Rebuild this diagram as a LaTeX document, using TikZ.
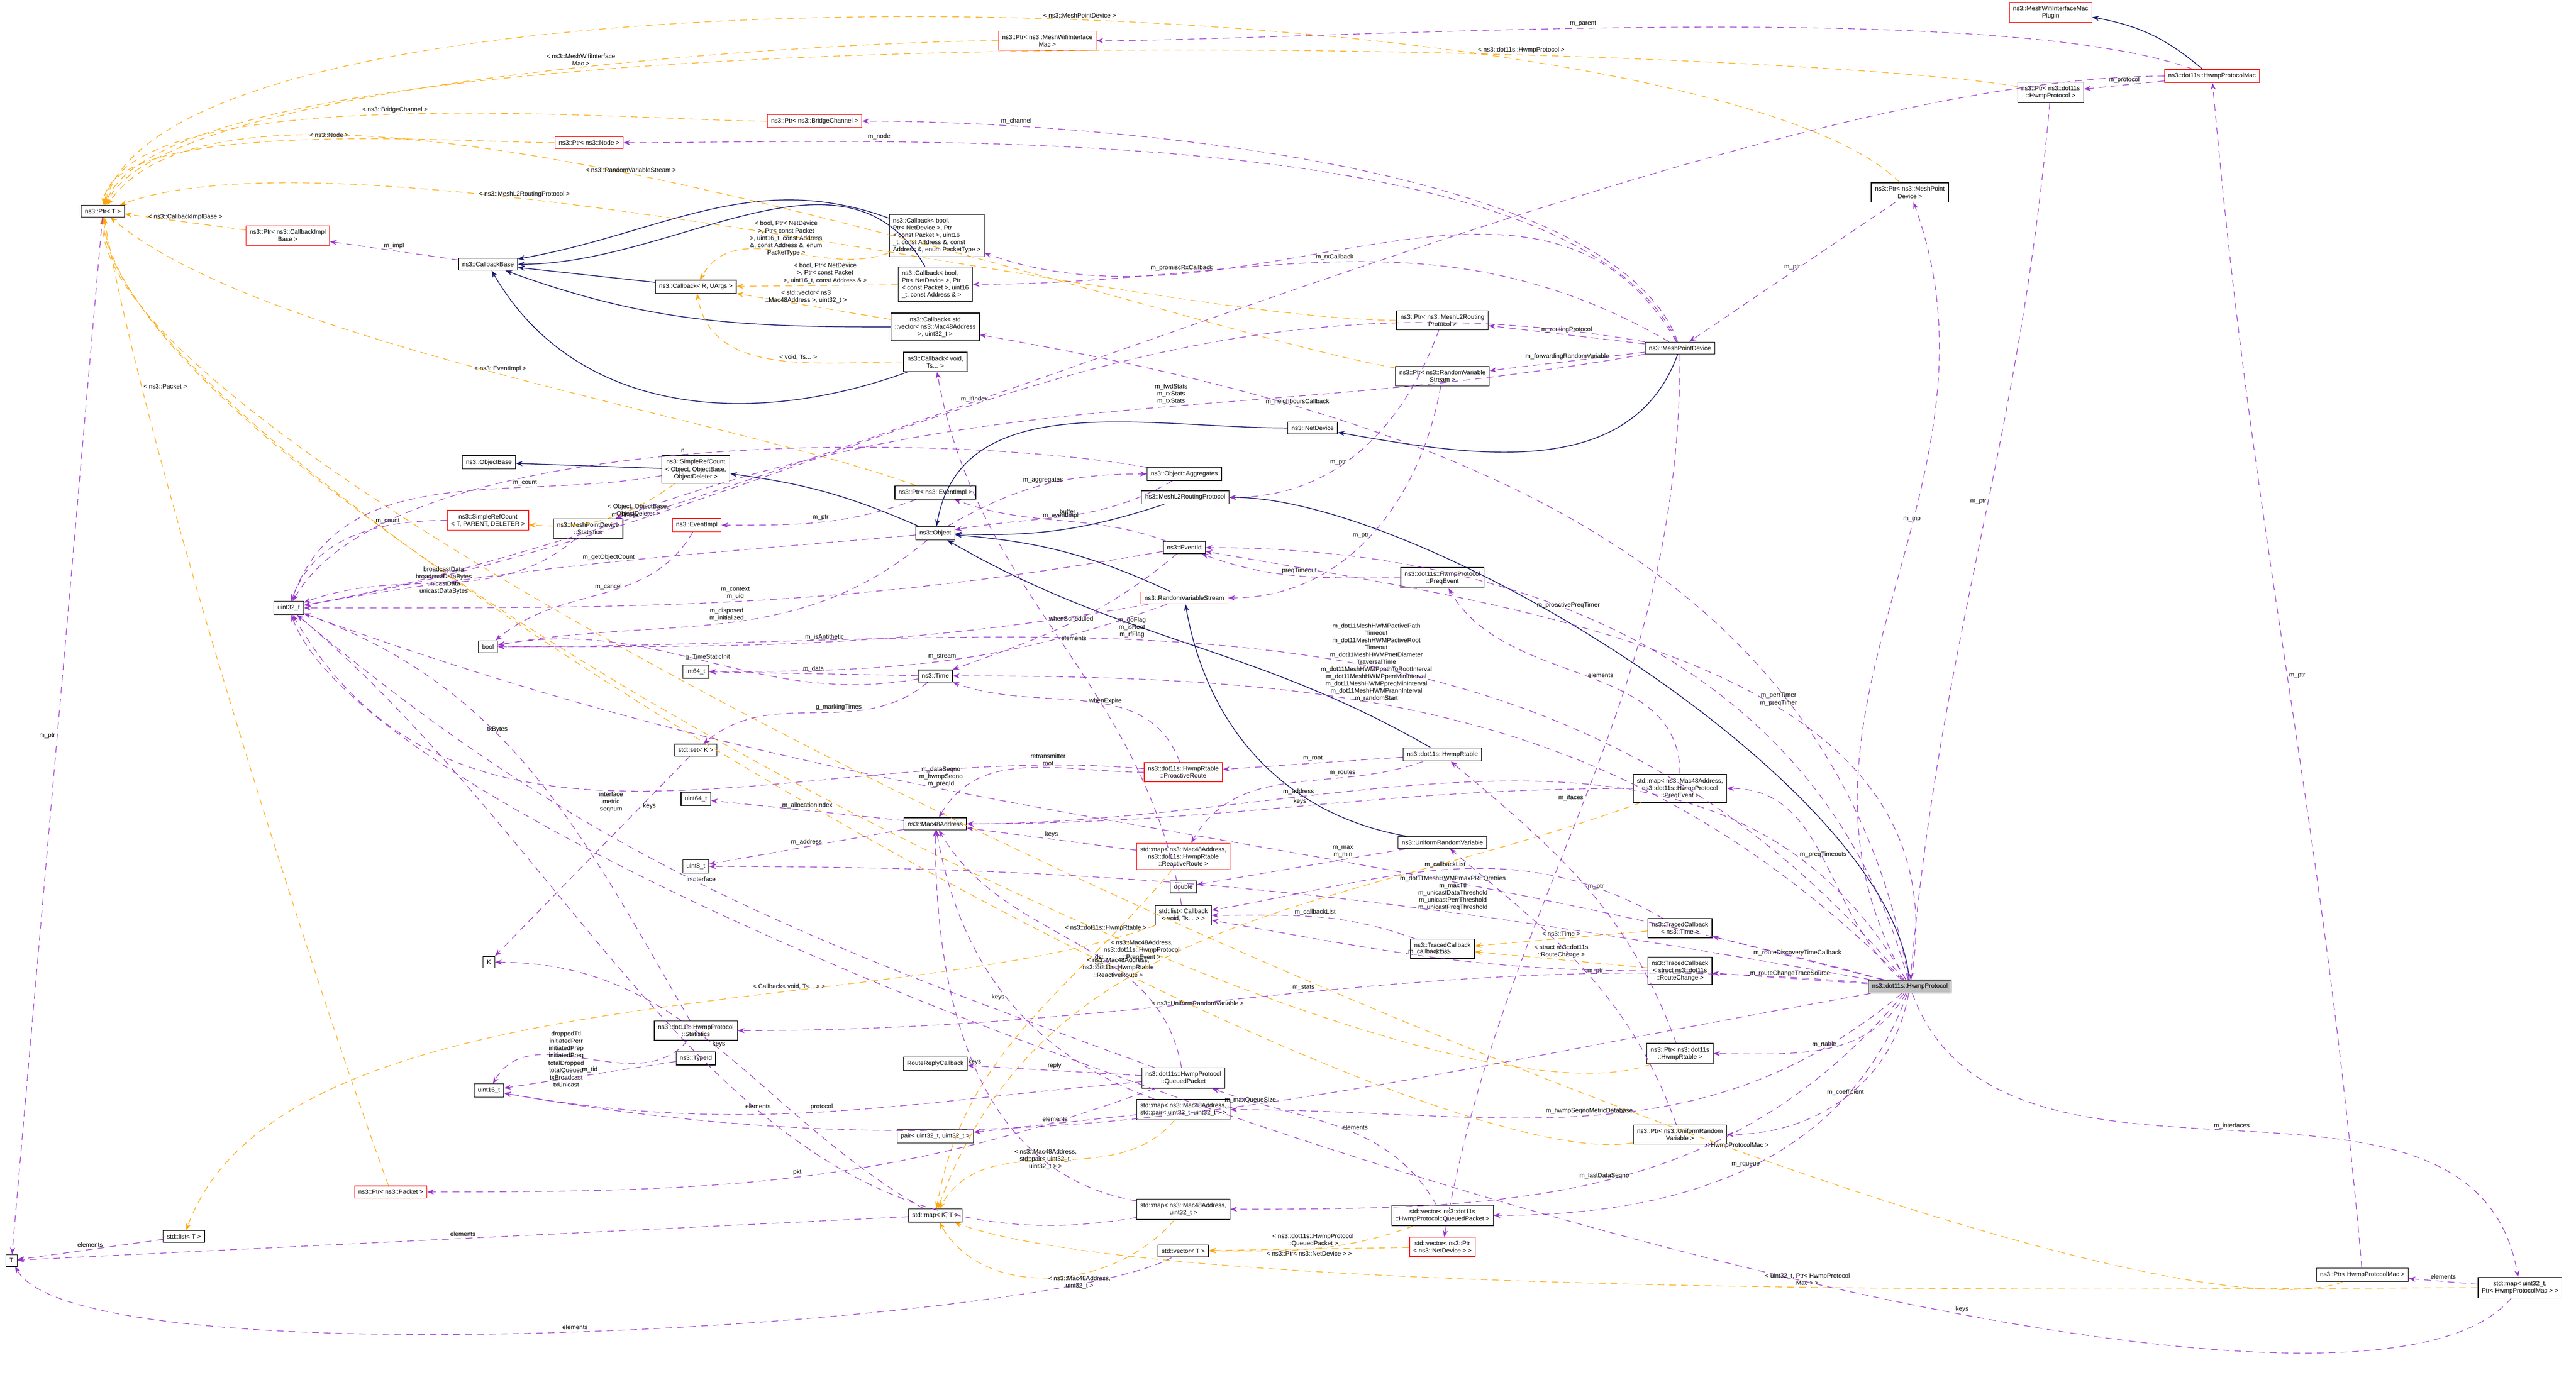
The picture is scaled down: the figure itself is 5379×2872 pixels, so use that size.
\documentclass[tikz,border=0pt]{standalone}
\usepackage{fontspec}
\setmainfont{Liberation Sans}
\usetikzlibrary{arrows.meta}
\definecolor{mem}{HTML}{9A32CD}
\definecolor{tpl}{HTML}{FFA500}
\definecolor{inh}{HTML}{191970}
\begin{document}
\begin{tikzpicture}[x=0.002cm,y=-0.002cm,
  every node/.style={font=\fontsize{0.74}{0.86}\selectfont},
  box/.style={draw=black,fill=white,align=center,inner sep=0.44pt,line width=0.08pt},
  rbox/.style={box,draw=red},
  gbox/.style={box,fill=black!25},
  lbl/.style={align=center,inner sep=0.2pt},
  mm/.style={draw=mem,dashed,dash pattern=on 0.8pt off 0.6pt,line width=0.07pt,-{Stealth[length=0.8pt,width=0.6pt]}},
  tp/.style={draw=tpl,dashed,dash pattern=on 0.8pt off 0.6pt,line width=0.07pt,-{Stealth[length=0.8pt,width=0.6pt]}},
  ih/.style={draw=inh,line width=0.09pt,-{Stealth[length=0.8pt,width=0.6pt]}}]
\useasboundingbox (0,0) rectangle (5379,2872);
% nodes
\node[box] (PtrT) at (215,441) {ns3::Ptr< T >};
\node[rbox] (PtrMWIM) at (2187,85) {ns3::Ptr< ns3::MeshWifiInterface\\Mac >};
\node[rbox] (PtrBC) at (1701,253) {ns3::Ptr< ns3::BridgeChannel >};
\node[rbox] (PtrNode) at (1230,298) {ns3::Ptr< ns3::Node >};
\node[rbox] (PtrCIB) at (601,492) {ns3::Ptr< ns3::CallbackImpl\\Base >};
\node[box] (CBase) at (1019,552) {ns3::CallbackBase};
\node[box] (CbRU) at (1453,599) {ns3::Callback< R, UArgs >};
\node[box,align=left] (Cb1) at (1956,492) {ns3::Callback< bool,\\ Ptr< NetDevice >, Ptr\\< const Packet >, uint16\\\_t, const Address \&, const\\ Address \&, enum PacketType >};
\node[box,align=left] (Cb2) at (1953,594) {ns3::Callback< bool,\\ Ptr< NetDevice >, Ptr\\< const Packet >, uint16\\\_t, const Address \& >};
\node[box] (Cb3) at (1953,683) {ns3::Callback< std\\::vector< ns3::Mac48Address\\ >, uint32\_t >};
\node[box] (Cb4) at (1953,756) {ns3::Callback< void,\\ Ts... >};
\node[box] (ObjBase) at (1021,966) {ns3::ObjectBase};
\node[box] (SRCO) at (1453,981) {ns3::SimpleRefCount\\< Object, ObjectBase,\\ ObjectDeleter >};
\node[rbox] (SRCT) at (1019,1087) {ns3::SimpleRefCount\\< T, PARENT, DELETER >};
\node[box] (MPDStats) at (1228,1104) {ns3::MeshPointDevice\\::Statistics};
\node[rbox] (EvImpl) at (1455,1097) {ns3::EventImpl};
\node[box] (PtrEI) at (1953,1029) {ns3::Ptr< ns3::EventImpl >};
\node[box] (Obj) at (1953,1114) {ns3::Object};
\node[box] (ObjAgg) at (2473,990) {ns3::Object::Aggregates};
\node[box] (ML2) at (2475,1039) {ns3::MeshL2RoutingProtocol};
\node[box] (EvId) at (2473,1144) {ns3::EventId};
\node[rbox] (RVS) at (2473,1249) {ns3::RandomVariableStream};
\node[box] (u32) at (603,1270) {uint32\_t};
\node[box] (bool) at (1019,1351) {bool};
\node[box] (i64) at (1453,1403) {int64\_t};
\node[box] (Time) at (1953,1412) {ns3::Time};
\node[box] (NetDev) at (2741,894) {ns3::NetDevice};
\node[rbox] (Plugin) at (4282,26) {ns3::MeshWifiInterfaceMac\\Plugin};
\node[rbox] (HPMac) at (4619,159) {ns3::dot11s::HwmpProtocolMac};
\node[box] (PtrHP) at (4282,193) {ns3::Ptr< ns3::dot11s\\::HwmpProtocol >};
\node[box] (PtrMPD) at (3988,402) {ns3::Ptr< ns3::MeshPoint\\Device >};
\node[box] (PtrML2) at (3012,669) {ns3::Ptr< ns3::MeshL2Routing\\Protocol >};
\node[box] (MPD) at (3508,727) {ns3::MeshPointDevice};
\node[box] (PtrRVS) at (3012,786) {ns3::Ptr< ns3::RandomVariable\\Stream >};
\node[box] (Preq) at (3012,1207) {ns3::dot11s::HwmpProtocol\\::PreqEvent};
\node[box] (SetK) at (1453,1567) {std::set< K >};
\node[box] (u64) at (1453,1669) {uint64\_t};
\node[rbox] (Proact) at (2471,1613) {ns3::dot11s::HwmpRtable\\::ProactiveRoute};
\node[box] (Mac) at (1953,1721) {ns3::Mac48Address};
\node[box] (u8) at (1453,1810) {uint8\_t};
\node[rbox] (MapRR) at (2471,1789) {std::map< ns3::Mac48Address,\\ ns3::dot11s::HwmpRtable\\::ReactiveRoute >};
\node[box] (dbl) at (2471,1853) {double};
\node[box] (ListCb) at (2471,1912) {std::list< Callback\\< void, Ts... > >};
\node[box] (K) at (1021,2010) {K};
\node[box] (HStats) at (1453,2153) {ns3::dot11s::HwmpProtocol\\::Statistics};
\node[box] (TypeId) at (1453,2211) {ns3::TypeId};
\node[box] (RRC) at (1953,2222) {RouteReplyCallback};
\node[box] (QP) at (2471,2252) {ns3::dot11s::HwmpProtocol\\::QueuedPacket};
\node[box] (u16) at (1021,2278) {uint16\_t};
\node[box] (MapPair) at (2471,2318) {std::map< ns3::Mac48Address,\\ std::pair< uint32\_t, uint32\_t > >};
\node[box] (Pair) at (1953,2374) {pair< uint32\_t, uint32\_t >};
\node[rbox] (PtrPkt) at (816,2490) {ns3::Ptr< ns3::Packet >};
\node[box] (MapKT) at (1953,2539) {std::map< K, T >};
\node[box] (MapU32) at (2471,2526) {std::map< ns3::Mac48Address,\\ uint32\_t >};
\node[box] (ListT) at (384,2583) {std::list< T >};
\node[box] (T) at (24,2633) {T};
\node[box] (VecT) at (2471,2613) {std::vector< T >};
\node[box] (Rtable) at (3012,1576) {ns3::dot11s::HwmpRtable};
\node[box] (MapPreq) at (3508,1647) {std::map< ns3::Mac48Address,\\ ns3::dot11s::HwmpProtocol\\::PreqEvent >};
\node[box] (URV) at (3012,1760) {ns3::UniformRandomVariable};
\node[box] (TCTime) at (3508,1939) {ns3::TracedCallback\\< ns3::Time >};
\node[box] (TCTs) at (3012,1982) {ns3::TracedCallback\\< Ts >};
\node[box] (TCRC) at (3508,2028) {ns3::TracedCallback\\< struct ns3::dot11s\\::RouteChange >};
\node[gbox] (HP) at (3988,2061) {ns3::dot11s::HwmpProtocol};
\node[box] (PtrRt) at (3508,2201) {ns3::Ptr< ns3::dot11s\\::HwmpRtable >};
\node[box] (PtrURV) at (3508,2370) {ns3::Ptr< ns3::UniformRandom\\Variable >};
\node[box] (VecQP) at (3012,2539) {std::vector< ns3::dot11s\\::HwmpProtocol::QueuedPacket >};
\node[rbox] (VecND) at (3012,2605) {std::vector< ns3::Ptr\\< ns3::NetDevice > >};
\node[box] (PtrHPMac) at (4933,2663) {ns3::Ptr< HwmpProtocolMac >};
\node[box] (MapIf) at (5262,2690) {std::map< uint32\_t,\\ Ptr< HwmpProtocolMac > >};

% inheritance
\draw[ih] (HPMac) to[bend right=15] (Plugin);
\draw[ih] (MPD) to[out=-110,in=-10] (NetDev);
\draw[ih] (NetDev) to[out=180,in=80] (Obj);
\draw[ih] (HP) to[out=95,in=0,looseness=0.6] (ML2);
\draw[ih] (ML2) to[bend left=10] (Obj);
\draw[ih] (RVS) to[bend right=10] (Obj);
\draw[ih] (URV) to[out=170,in=-80] (RVS);
\draw[ih] (Rtable) to[out=150,in=-30] (Obj);
\draw[ih] (Obj) to[bend right=8] (SRCO);
\draw[ih] (SRCO) to (ObjBase);
\draw[ih] (CbRU) to (CBase);
\draw[ih] (Cb1) to[out=160,in=10] (CBase);
\draw[ih] (Cb2) to[out=120,in=0] (CBase);
\draw[ih] (Cb3) to[out=180,in=-20] (CBase);
\draw[ih] (Cb4) to[out=200,in=-60] (CBase);

% template instantiations
\draw[tp] (PtrMWIM) to[out=180,in=65,looseness=0.4] node[lbl,pos=0.45,above]{< ns3::MeshWifiInterface\\Mac >} (PtrT);
\draw[tp] (PtrHP) to[out=170,in=70,looseness=0.3] node[lbl,pos=0.3,above]{< ns3::dot11s::HwmpProtocol >} (PtrT);
\draw[tp] (PtrMPD) to[out=135,in=75,looseness=0.4] node[lbl,pos=0.45,above]{< ns3::MeshPointDevice >} (PtrT);
\draw[tp] (PtrBC) to[out=180,in=80,looseness=0.5] node[lbl,pos=0.5,above]{< ns3::BridgeChannel >} (PtrT);
\draw[tp] (PtrNode) to[out=180,in=85,looseness=0.5] node[lbl,pos=0.45,above]{< ns3::Node >} (PtrT);
\draw[tp] (PtrRVS) to[out=170,in=55,looseness=0.5] node[lbl,pos=0.55,above]{< ns3::RandomVariableStream >} (PtrT);
\draw[tp] (PtrML2) to[out=180,in=20,looseness=0.5] node[lbl,pos=0.65,above]{< ns3::MeshL2RoutingProtocol >} (PtrT);
\draw[tp] (PtrCIB) to node[lbl,pos=0.5,above]{< ns3::CallbackImplBase >} (PtrT);
\draw[tp] (PtrEI) to[out=160,in=-40,looseness=0.6] node[lbl,pos=0.5,above]{< ns3::EventImpl >} (PtrT);
\draw[tp] (PtrPkt) to[out=110,in=-80,looseness=0.6] node[lbl,pos=0.8,right]{< ns3::Packet >} (PtrT);
\draw[tp] (PtrRt) to[out=200,in=-85,looseness=0.4] node[lbl,pos=0.35,above]{< ns3::dot11s::HwmpRtable >} (PtrT);
\draw[tp] (PtrURV) to[out=190,in=-88,looseness=0.35] node[lbl,pos=0.3,above]{< ns3::UniformRandomVariable >} (PtrT);
\draw[tp] (PtrHPMac) to[out=200,in=-92,looseness=0.3] node[lbl,pos=0.3,above]{< HwmpProtocolMac >} (PtrT);
\draw[tp] (SRCO) to[bend left=20] node[lbl,pos=0.5,above right]{< Object, ObjectBase,\\ ObjectDeleter >} (SRCT);
\draw[tp] (Cb1) to[out=200,in=60] node[lbl,pos=0.3,above left]{< bool, Ptr< NetDevice\\ >, Ptr< const Packet\\ >, uint16\_t, const Address\\ \&, const Address \&, enum\\ PacketType >} (CbRU);
\draw[tp] (Cb2) to node[lbl,pos=0.45,above]{< bool, Ptr< NetDevice\\ >, Ptr< const Packet\\ >, uint16\_t, const Address \& >} (CbRU);
\draw[tp] (Cb3) to node[lbl,pos=0.55,above]{< std::vector< ns3\\::Mac48Address >, uint32\_t >} (CbRU);
\draw[tp] (Cb4) to[out=180,in=-80] node[lbl,pos=0.4,above]{< void, Ts... >} (CbRU);
\draw[tp] (MapRR) to[out=230,in=80] node[lbl,pos=0.3,right]{< ns3::Mac48Address,\\ ns3::dot11s::HwmpRtable\\::ReactiveRoute >} (MapKT);
\draw[tp] (MapPreq) to[out=200,in=70] node[lbl,pos=0.55,left]{< ns3::Mac48Address,\\ ns3::dot11s::HwmpProtocol\\::PreqEvent >} (MapKT);
\draw[tp] (MapPair) to[out=230,in=60] node[lbl,pos=0.4,left]{< ns3::Mac48Address,\\ std::pair< uint32\_t,\\ uint32\_t > >} (MapKT);
\draw[tp] (MapU32) to[out=230,in=-60] node[lbl,pos=0.4,below]{< ns3::Mac48Address,\\ uint32\_t >} (MapKT);
\draw[tp] (MapIf) to[out=180,in=-20,looseness=0.4] node[lbl,pos=0.45,above]{< uint32\_t, Ptr< HwmpProtocol\\ Mac > >} (MapKT);
\draw[tp] (ListCb) to[out=200,in=70,looseness=0.7] node[lbl,pos=0.35,above]{< Callback< void, Ts... > >} (ListT);
\draw[tp] (VecQP) to[out=200,in=0] node[lbl,pos=0.5,above]{< ns3::dot11s::HwmpProtocol\\::QueuedPacket >} (VecT);
\draw[tp] (VecND) to node[lbl,pos=0.5,below]{< ns3::Ptr< ns3::NetDevice > >} (VecT);
\draw[tp] (TCTime) to node[lbl,pos=0.5,above]{< ns3::Time >} (TCTs);
\draw[tp] (TCRC) to node[lbl,pos=0.5,above]{< struct ns3::dot11s\\::RouteChange >} (TCTs);

% members
\draw[mm] (HPMac) to[out=160,in=0,looseness=0.5] node[lbl,pos=0.55,above]{m\_parent} (PtrMWIM);
\draw[mm] (HPMac) to node[lbl,pos=0.5,above]{m\_protocol} (PtrHP);
\draw[mm] (HPMac) to[out=180,in=10,looseness=0.6] node[lbl,pos=0.8,above]{m\_ifIndex} (u32);
\draw[mm] (PtrHP) to[out=-95,in=85] node[lbl,pos=0.45,left]{m\_ptr} (HP);
\draw[mm] (PtrHPMac) to[out=95,in=-85] node[lbl,pos=0.5,right]{m\_ptr} (HPMac);
\draw[mm] (HP) to[out=-70,in=100] node[lbl,pos=0.5,above]{m\_interfaces} (MapIf);
\draw[mm] (MapIf) to node[lbl,pos=0.5,above]{elements} (PtrHPMac);
\draw[mm] (MapIf) to[out=230,in=-70,looseness=0.35] node[lbl,pos=0.3,above]{keys} (u32);
\draw[mm] (HP) to[out=120,in=-70] node[lbl,pos=0.6,above]{m\_mp} (PtrMPD);
\draw[mm] (PtrMPD) to node[lbl,pos=0.5,above]{m\_ptr} (MPD);
\draw[mm] (MPD) to node[lbl,pos=0.5,above]{m\_routingProtocol} (PtrML2);
\draw[mm] (MPD) to node[lbl,pos=0.5,above]{m\_forwardingRandomVariable} (PtrRVS);
\draw[mm] (MPD) to[out=110,in=0,looseness=0.6] node[lbl,pos=0.8,above]{m\_channel} (PtrBC);
\draw[mm] (MPD) to[out=115,in=0,looseness=0.6] node[lbl,pos=0.75,above]{m\_node} (PtrNode);
\draw[mm] (MPD) to[out=120,in=-20] node[lbl,pos=0.75,above]{m\_promiscRxCallback} (Cb1);
\draw[mm] (MPD) to[out=150,in=0] node[lbl,pos=0.5,above]{m\_rxCallback} (Cb2);
\draw[mm] (MPD) to[out=170,in=10] node[lbl,pos=0.5,above]{m\_ifIndex} (u32);
\draw[mm] (MPD) to[out=190,in=20] node[lbl,pos=0.45,above]{m\_fwdStats\\m\_rxStats\\m\_txStats} (MPDStats);
\draw[mm] (MPD) to[out=-90,in=80] node[lbl,pos=0.5,left]{m\_ifaces} (VecND);
\draw[mm] (HP) to[out=100,in=-10] node[lbl,pos=0.75,above]{m\_neighboursCallback} (Cb3);
\draw[mm] (PtrML2) to[out=-110,in=0] node[lbl,pos=0.6,above]{m\_ptr} (ML2);
\draw[mm] (PtrRVS) to[out=-100,in=0] node[lbl,pos=0.5,left]{m\_ptr} (RVS);
\draw[mm] (RVS) to[out=190,in=0] node[lbl,pos=0.5,above]{m\_isAntithetic} (bool);
\draw[mm] (RVS) to[out=200,in=0] node[lbl,pos=0.5,above]{m\_stream} (i64);
\draw[mm] (URV) to node[lbl,pos=0.3,above]{m\_max\\m\_min} (dbl);
\draw[mm] (PtrURV) to[out=110,in=-40] node[lbl,pos=0.5,right]{m\_ptr} (URV);
\draw[mm] (HP) to[out=-100,in=0] node[lbl,pos=0.5,above]{m\_coefficient} (PtrURV);
\draw[mm] (HP) to[out=-120,in=0] node[lbl,pos=0.5,above]{m\_rtable} (PtrRt);
\draw[mm] (PtrRt) to[out=110,in=-40] node[lbl,pos=0.5,right]{m\_ptr} (Rtable);
\draw[mm] (Rtable) to node[lbl,pos=0.5,above]{m\_root} (Proact);
\draw[mm] (Rtable) to[out=200,in=60] node[lbl,pos=0.3,above]{m\_routes} (MapRR);
\draw[mm] (Proact) to[out=180,in=60] node[lbl,pos=0.4,above]{retransmitter\\root} (Mac);
\draw[mm] (Proact) to[out=110,in=-20] node[lbl,pos=0.5,right]{whenExpire} (Time);
\draw[mm] (Proact) to[out=175,in=-60] node[lbl,pos=0.55,below]{interface\\metric\\seqnum} (u32);
\draw[mm] (MapRR) to node[lbl,pos=0.5,above]{keys} (Mac);
\draw[mm] (HP) to[out=140,in=0] node[lbl,pos=0.5,above]{m\_preqTimeouts} (MapPreq);
\draw[mm] (MapPreq) to[out=90,in=-60] node[lbl,pos=0.5,right]{elements} (Preq);
\draw[mm] (MapPreq) to[out=180,in=0] node[lbl,pos=0.5,above]{keys} (Mac);
\draw[mm] (Preq) to[out=180,in=-20] node[lbl,pos=0.5,above]{preqTimeout} (EvId);
\draw[mm] (HP) to[out=105,in=0] node[lbl,pos=0.6,above]{m\_proactivePreqTimer} (EvId);
\draw[mm] (HP) to[out=80,in=-10] node[lbl,pos=0.4,above]{m\_perrTimer\\m\_preqTimer} (EvId);
\draw[mm] (EvId) to[out=160,in=-20] node[lbl,pos=0.5,above]{m\_eventImpl} (PtrEI);
\draw[mm] (EvId) to[out=190,in=0] node[lbl,pos=0.5,above]{m\_context\\m\_uid} (u32);
\draw[mm] (EvId) to[out=220,in=20] node[lbl,pos=0.5,above]{whenScheduled} (Time);
\draw[mm] (PtrEI) to[out=200,in=0] node[lbl,pos=0.5,above]{m\_ptr} (EvImpl);
\draw[mm] (EvImpl) to[out=-120,in=40] node[lbl,pos=0.4,left]{m\_cancel} (bool);
\draw[mm] (SRCT) to[out=180,in=70] node[lbl,pos=0.3,above]{m\_count} (u32);
\draw[mm] (SRCO) to[out=190,in=70] node[lbl,pos=0.3,above]{m\_count} (u32);
\draw[mm] (MPDStats) to[out=220,in=20] node[lbl,pos=0.4,left]{broadcastData\\broadcastDataBytes\\unicastData\\unicastDataBytes} (u32);
\draw[mm] (Obj) to[out=30,in=180] node[lbl,pos=0.5,above]{m\_aggregates} (ObjAgg);
\draw[mm] (ObjAgg) to[out=-150,in=10] node[lbl,pos=0.5,above]{buffer} (Obj);
\draw[mm] (ObjAgg) to[out=170,in=60,looseness=0.6] node[lbl,pos=0.5,above]{n} (u32);
\draw[mm] (Obj) to[out=-140,in=10] node[lbl,pos=0.5,above]{m\_disposed\\m\_initialized} (bool);
\draw[mm] (Obj) to[out=185,in=10] node[lbl,pos=0.5,above]{m\_getObjectCount} (u32);
\draw[mm] (CBase) to node[lbl,pos=0.5,above]{m\_impl} (PtrCIB);
\draw[mm] (Time) to node[lbl,pos=0.5,above]{m\_data} (i64);
\draw[mm] (Time) to[out=190,in=10] node[lbl,pos=0.5,above]{g\_TimeStaticInit} (bool);
\draw[mm] (Time) to[out=220,in=40] node[lbl,pos=0.4,above]{g\_markingTimes} (SetK);
\draw[mm] (SetK) to node[lbl,pos=0.25,right]{keys} (K);
\draw[mm] (HP) to[out=135,in=0] node[lbl,pos=0.6,above]{m\_dot11MeshHWMPactivePath\\Timeout\\m\_dot11MeshHWMPactiveRoot\\Timeout\\m\_dot11MeshHWMPnetDiameter\\TraversalTime\\m\_dot11MeshHWMPpathToRootInterval\\m\_dot11MeshHWMPperrMinInterval\\m\_dot11MeshHWMPpreqMinInterval\\m\_dot11MeshHWMPrannInterval\\m\_randomStart} (Time);
\draw[mm] (HP) to[out=170,in=0] node[lbl,pos=0.35,above]{m\_dot11MeshHWMPmaxPREQretries\\m\_maxTtl\\m\_unicastDataThreshold\\m\_unicastPerrThreshold\\m\_unicastPreqThreshold} (u8);
\draw[mm] (HP) to[out=130,in=0] node[lbl,pos=0.6,above]{m\_doFlag\\m\_isRoot\\m\_rfFlag} (bool);
\draw[mm] (HP) to[out=120,in=0] node[lbl,pos=0.7,above]{m\_address} (Mac);
\draw[mm] (Mac) to node[lbl,pos=0.5,above]{m\_address} (u8);
\draw[mm] (Mac) to node[lbl,pos=0.5,above]{m\_allocationIndex} (u64);
\draw[mm] (HP) to[out=165,in=-20] node[lbl,pos=0.6,above]{m\_dataSeqno\\m\_hwmpSeqno\\m\_preqId} (u32);
\draw[mm] (HP) to[out=190,in=-10] node[lbl,pos=0.45,above]{m\_maxQueueSize} (u16);
\draw[mm] (HP) to[out=175,in=0] node[lbl,pos=0.5,above]{m\_stats} (HStats);
\draw[mm] (HStats) to[out=230,in=60] node[lbl,pos=0.5,left]{droppedTtl\\initiatedPerr\\initiatedPrep\\initiatedPreq\\totalDropped\\totalQueued\\txBroadcast\\txUnicast} (u16);
\draw[mm] (HStats) to[out=120,in=-20] node[lbl,pos=0.6,above]{txBytes} (u32);
\draw[mm] (TypeId) to node[lbl,pos=0.5,above]{m\_tid} (u16);
\draw[mm] (QP) to node[lbl,pos=0.5,above]{reply} (RRC);
\draw[mm] (QP) to[out=185,in=-10] node[lbl,pos=0.5,above]{protocol} (u16);
\draw[mm] (QP) to[out=160,in=-40] node[lbl,pos=0.5,above]{inInterface} (u32);
\draw[mm] (QP) to[out=100,in=-60] node[lbl,pos=0.4,left]{dst\\src} (Mac);
\draw[mm] (QP) to[out=200,in=0] node[lbl,pos=0.5,above]{pkt} (PtrPkt);
\draw[mm] (HP) to[out=-110,in=0] node[lbl,pos=0.5,above]{m\_rqueue} (VecQP);
\draw[mm] (VecQP) to[out=120,in=-20] node[lbl,pos=0.5,right]{elements} (QP);
\draw[mm] (HP) to[out=-140,in=0] node[lbl,pos=0.5,above]{m\_hwmpSeqnoMetricDatabase} (MapPair);
\draw[mm] (MapPair) to node[lbl,pos=0.5,above]{elements} (Pair);
\draw[mm] (MapPair) to[out=160,in=-80] node[lbl,pos=0.5,left]{keys} (Mac);
\draw[mm] (HP) to[out=-130,in=0] node[lbl,pos=0.5,above]{m\_lastDataSeqno} (MapU32);
\draw[mm] (MapU32) to[out=170,in=-90] node[lbl,pos=0.5,above]{keys} (Mac);
\draw[mm] (MapU32) to[out=190,in=-40] node[lbl,pos=0.4,above]{elements} (u32);
\draw[mm] (HP) to node[lbl,pos=0.5,above]{m\_routeDiscoveryTimeCallback} (TCTime);
\draw[mm] (HP) to node[lbl,pos=0.5,above]{m\_routeChangeTraceSource} (TCRC);
\draw[mm] (TCTs) to[out=160,in=0] node[lbl,pos=0.5,above]{m\_callbackList} (ListCb);
\draw[mm] (TCTime) to[out=150,in=10] node[lbl,pos=0.5,above]{m\_callbackList} (ListCb);
\draw[mm] (TCRC) to[out=180,in=-10] node[lbl,pos=0.5,above]{m\_callbackList} (ListCb);
\draw[mm] (ListCb) to[out=100,in=-80] node[lbl,pos=0.5,right]{elements} (Cb4);
\draw[mm] (ListT) to node[lbl,pos=0.5,above]{elements} (T);
\draw[mm] (MapKT) to node[lbl,pos=0.5,above]{elements} (T);
\draw[mm] (MapKT) to[out=150,in=0] node[lbl,pos=0.5,above]{keys} (K);
\draw[mm] (VecT) to[out=210,in=-60,looseness=0.3] node[lbl,pos=0.5,above]{elements} (T);
\draw[mm] (PtrT) to node[lbl,pos=0.5,left]{m\_ptr} (T);
\end{tikzpicture}
\end{document}
